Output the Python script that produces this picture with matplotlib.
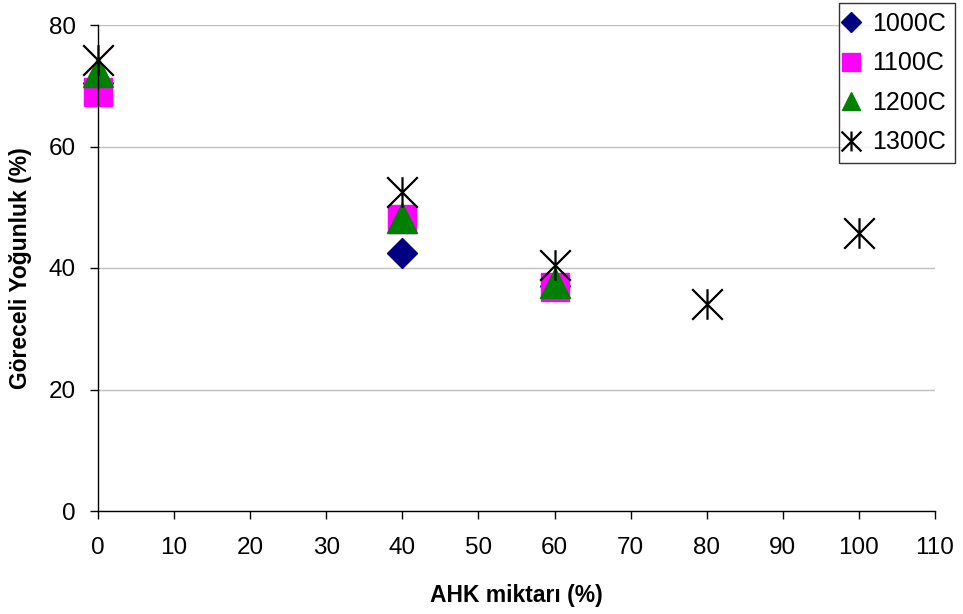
import numpy as np
import matplotlib.pyplot as plt
from matplotlib.path import Path

plt.rcParams['font.family'] = ['Liberation Sans', 'DejaVu Sans']

# data
ahk = [0, 40, 60]
ahk_1300 = [0, 40, 60, 80, 100]
dens_1000 = [70.5, 42.5, 37.0]
dens_1100 = [69.0, 48.0, 36.8]
dens_1200 = [72.3, 48.3, 37.5]
dens_1300 = [74.2, 52.5, 40.5, 34.0, 45.8]

xticks = list(range(0, 111, 10))
yticks = [0, 20, 40, 60, 80]

# asterisk marker: an X with a vertical bar through it
star = Path([(-1, -1), (1, 1), (-1, 1), (1, -1), (0, -1), (0, 1)],
            [Path.MOVETO, Path.LINETO, Path.MOVETO, Path.LINETO,
             Path.MOVETO, Path.LINETO])

fig = plt.figure(figsize=(9.63, 6.14), dpi=100)
ax = fig.add_axes([98 / 963, 1 - 511 / 614, (935 - 98) / 963, (511 - 25) / 614])

ax.plot(ahk, dens_1000, ls='none', marker='D', ms=15, color='#000080',
        label='1000C')
ax.plot(ahk, dens_1100, ls='none', marker='s', ms=20, color='#FF00FF',
        label='1100C')
ax.plot(ahk, dens_1200, ls='none', marker='^', ms=21, color='#008000',
        label='1200C')
ax.plot(ahk_1300, dens_1300, ls='none', marker=star, ms=22, mew=1.6,
        color='black', mfc='none', label='1300C')

ax.set_xlim(0, 110)
ax.set_ylim(0, 80)
ax.set_xticks(xticks)
ax.set_yticks(yticks)
ax.tick_params(labelsize=17.5, length=6, width=1, colors='black')
ax.tick_params(axis='x', pad=13)
ax.tick_params(axis='y', pad=10)
ax.grid(axis='y', color='#c0c0c0', lw=1)
ax.set_axisbelow(True)
for s in ['top', 'right']:
    ax.spines[s].set_visible(False)
for s in ['left', 'bottom']:
    ax.spines[s].set_linewidth(1)
for ln in ax.lines:
    ln.set_clip_on(False)

ax.set_xlabel('AHK miktarı (%)', fontsize=16.5, fontweight='bold', labelpad=18)
ax.set_ylabel('Göreceli Yoğunluk (%)', fontsize=16.5, fontweight='bold',
              labelpad=12)

leg = fig.legend(loc='upper right', bbox_to_anchor=(955 / 963, 1 - 3 / 614),
                 fontsize=18, markerscale=0.65, frameon=True, fancybox=False,
                 edgecolor='black', handlelength=0.3, handletextpad=0.7,
                 labelspacing=0.62, borderpad=0.35, borderaxespad=0)
leg.get_frame().set_linewidth(1)

fig.savefig('out.png', dpi=100)
